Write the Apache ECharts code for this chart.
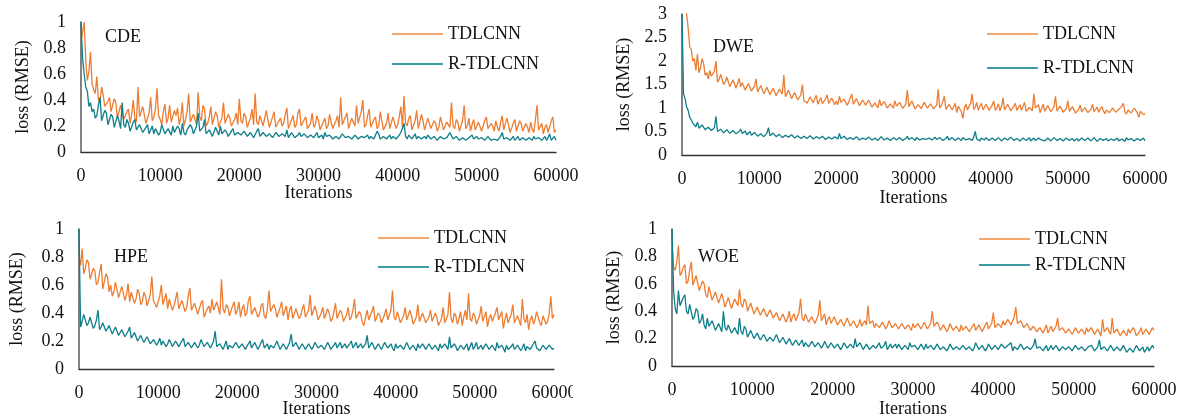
<!DOCTYPE html>
<html>
<head>
<meta charset="utf-8">
<script src="https://cdn.jsdelivr.net/npm/echarts@6/dist/echarts.min.js"></script>
<style>
html,body{margin:0;padding:0;background:#fff;}
#wrap{position:relative;width:1179px;height:414px;overflow:hidden;background:#fff;}
.p{position:absolute;}
</style>
</head>
<body>
<div id="wrap">
  <div class="p" id="p1" style="left:0;top:0;width:590px;height:207px"></div>
  <div class="p" id="p2" style="left:590px;top:0;width:589px;height:207px"></div>
  <div class="p" id="p3" style="left:0;top:207px;width:573px;height:207px"></div>
  <div class="p" id="p4" style="left:590px;top:207px;width:589px;height:207px"></div>
</div>
<script>
// sample spacing of the loss curves (iterations between points)
const step = 200;
const seriesNames = ['TDLCNN', 'R-TDLCNN'];
const panelNames = ['CDE', 'DWE', 'HPE', 'WOE'];
const xTitle = 'Iterations';
const yTitle = 'loss (RMSE)';

const cdeT = [
0.86,0.92,1.00,0.70,0.55,0.62,0.77,0.52,0.48,0.45,0.58,0.40,0.38,0.50,0.44,0.35,0.34,0.39,0.42,0.31,
0.30,0.41,0.38,0.26,0.27,0.36,0.35,0.25,0.24,0.31,0.33,0.22,0.29,0.40,0.26,0.23,0.50,0.27,0.28,0.35,
0.34,0.22,0.23,0.30,0.42,0.24,0.27,0.33,0.49,0.28,0.25,0.21,0.31,0.37,0.22,0.26,0.36,0.23,0.24,0.32,
0.28,0.34,0.21,0.26,0.38,0.20,0.25,0.31,0.45,0.23,0.22,0.29,0.30,0.21,0.46,0.27,0.24,0.36,0.33,0.20,
0.22,0.27,0.35,0.21,0.20,0.31,0.28,0.19,0.23,0.26,0.38,0.22,0.21,0.29,0.26,0.20,0.19,0.25,0.30,0.21,
0.41,0.24,0.22,0.30,0.27,0.19,0.20,0.26,0.33,0.21,0.45,0.23,0.21,0.28,0.29,0.20,0.19,0.32,0.25,0.19,
0.20,0.27,0.31,0.19,0.18,0.24,0.26,0.20,0.22,0.29,0.34,0.18,0.19,0.25,0.28,0.19,0.21,0.30,0.33,0.20,
0.19,0.25,0.27,0.18,0.18,0.22,0.30,0.19,0.21,0.28,0.24,0.17,0.17,0.23,0.26,0.18,0.20,0.29,0.23,0.18,
0.18,0.24,0.28,0.19,0.42,0.21,0.20,0.27,0.30,0.18,0.19,0.26,0.25,0.20,0.36,0.22,0.22,0.31,0.40,0.19,
0.21,0.28,0.33,0.19,0.18,0.25,0.27,0.18,0.20,0.31,0.24,0.17,0.17,0.22,0.30,0.18,0.19,0.27,0.26,0.18,
0.21,0.27,0.35,0.19,0.43,0.22,0.20,0.26,0.28,0.17,0.17,0.24,0.32,0.18,0.19,0.29,0.24,0.17,0.18,0.26,
0.26,0.18,0.17,0.24,0.22,0.16,0.19,0.27,0.28,0.17,0.16,0.23,0.21,0.19,0.38,0.20,0.18,0.25,0.23,0.16,
0.17,0.24,0.36,0.18,0.20,0.26,0.16,0.21,0.25,0.17,0.18,0.23,0.22,0.16,0.15,0.24,0.27,0.18,0.17,0.22,
0.20,0.16,0.24,0.19,0.16,0.23,0.28,0.17,0.18,0.26,0.21,0.15,0.15,0.22,0.25,0.16,0.17,0.24,0.22,0.16,
0.16,0.22,0.19,0.15,0.23,0.17,0.15,0.25,0.36,0.17,0.18,0.22,0.14,0.19,0.21,0.15,0.16,0.24,0.27,0.15,
0.17];
const cdeR = [
1.00,0.72,0.60,0.50,0.47,0.35,0.38,0.31,0.33,0.26,0.28,0.36,0.42,0.24,0.25,0.32,0.30,0.21,0.22,0.29,
0.27,0.19,0.20,0.28,0.24,0.18,0.38,0.21,0.19,0.25,0.22,0.16,0.17,0.23,0.25,0.17,0.16,0.21,0.20,0.15,
0.15,0.19,0.21,0.14,0.17,0.20,0.14,0.18,0.19,0.13,0.15,0.21,0.22,0.14,0.14,0.18,0.17,0.13,0.20,0.15,
0.14,0.20,0.18,0.13,0.22,0.15,0.13,0.17,0.16,0.21,0.19,0.14,0.14,0.20,0.30,0.16,0.15,0.19,0.25,0.14,
0.14,0.17,0.18,0.12,0.13,0.19,0.16,0.13,0.20,0.14,0.13,0.17,0.15,0.12,0.12,0.16,0.18,0.13,0.13,0.15,
0.15,0.13,0.12,0.16,0.17,0.12,0.13,0.15,0.14,0.11,0.12,0.16,0.18,0.12,0.13,0.15,0.15,0.12,0.12,0.14,
0.14,0.11,0.12,0.15,0.16,0.12,0.11,0.14,0.13,0.12,0.17,0.11,0.12,0.15,0.14,0.11,0.11,0.13,0.15,0.12,
0.12,0.14,0.13,0.11,0.11,0.13,0.14,0.11,0.12,0.15,0.11,0.12,0.13,0.10,0.15,0.12,0.11,0.13,0.12,0.10,
0.10,0.12,0.13,0.10,0.11,0.14,0.14,0.11,0.10,0.12,0.12,0.10,0.11,0.13,0.13,0.10,0.10,0.12,0.12,0.11,
0.11,0.13,0.10,0.12,0.13,0.10,0.11,0.16,0.14,0.10,0.10,0.12,0.12,0.10,0.11,0.13,0.10,0.12,0.13,0.10,
0.11,0.13,0.15,0.18,0.22,0.12,0.10,0.13,0.12,0.10,0.11,0.14,0.10,0.12,0.13,0.10,0.11,0.12,0.10,0.13,
0.12,0.10,0.10,0.12,0.11,0.09,0.09,0.12,0.13,0.10,0.10,0.11,0.12,0.15,0.14,0.10,0.10,0.12,0.11,0.09,
0.10,0.11,0.12,0.09,0.09,0.11,0.11,0.13,0.10,0.09,0.12,0.10,0.09,0.11,0.11,0.09,0.10,0.12,0.12,0.09,
0.09,0.10,0.11,0.09,0.10,0.12,0.15,0.10,0.09,0.11,0.11,0.09,0.10,0.12,0.09,0.10,0.12,0.09,0.10,0.11,
0.11,0.09,0.09,0.11,0.10,0.09,0.12,0.10,0.09,0.11,0.11,0.09,0.10,0.12,0.09,0.11,0.14,0.09,0.10,0.12,
0.09];
const dweT = [
3.40,3.10,3.20,3.00,2.70,2.30,2.25,2.00,2.05,1.80,2.15,1.75,1.85,2.05,1.95,1.70,1.75,1.62,1.80,1.68,
1.65,1.78,2.00,1.55,1.60,1.72,1.70,1.50,1.55,1.66,1.62,1.45,1.48,1.60,1.58,1.42,1.52,1.63,1.45,1.54,
1.55,1.38,1.42,1.52,1.50,1.36,1.38,1.47,1.62,1.34,1.35,1.48,1.45,1.30,1.33,1.44,1.40,1.28,1.30,1.42,
1.38,1.26,1.28,1.40,1.42,1.30,1.70,1.24,1.25,1.38,1.35,1.20,1.22,1.33,1.30,1.17,1.18,1.28,1.50,1.16,
1.20,1.10,1.12,1.24,1.25,1.11,1.15,1.27,1.08,1.16,1.22,1.09,1.12,1.20,1.28,1.10,1.10,1.21,1.18,1.07,
1.15,1.07,1.25,1.12,1.08,1.19,1.18,1.06,1.12,1.22,1.30,1.08,1.10,1.20,1.16,1.05,1.06,1.17,1.20,1.06,
1.08,1.17,1.14,1.02,1.00,1.11,1.10,1.00,1.18,1.05,1.03,1.14,1.12,1.00,0.98,1.09,1.08,1.00,1.15,1.04,
1.02,1.12,1.10,0.99,1.00,1.08,1.38,1.03,1.05,1.15,1.12,0.98,0.98,1.07,1.08,0.99,1.03,1.12,1.14,1.00,
1.00,1.09,1.10,0.98,0.97,1.06,1.40,1.00,1.05,1.14,1.25,0.97,0.95,1.08,1.12,0.96,1.02,1.10,0.90,1.04,
1.05,0.92,0.78,1.00,1.08,0.96,0.98,1.10,1.30,0.97,1.02,1.12,0.95,1.04,1.10,0.96,1.00,1.08,1.06,0.95,
0.96,1.06,1.15,0.95,1.00,1.09,0.94,1.03,1.22,0.96,0.98,1.08,1.05,0.94,0.93,1.04,1.10,0.95,0.99,1.07,
0.95,1.04,1.12,0.93,0.92,1.01,1.05,0.94,1.30,1.00,0.96,1.07,0.90,0.99,1.08,0.93,0.97,1.05,1.02,0.92,
0.92,1.02,1.25,0.94,0.95,1.04,1.05,0.91,0.90,0.99,1.15,0.93,0.94,1.03,0.99,0.89,0.88,0.97,1.06,0.92,
0.93,1.01,1.00,0.90,0.89,0.98,1.08,0.92,0.95,1.02,0.91,0.87,1.03,0.94,0.88,0.96,0.97,0.90,0.92,1.00,
1.00,0.91,0.90,0.97,0.95,1.04,1.10,0.92,0.87,0.96,0.98,0.89,0.92,1.00,1.02,0.90,0.80,0.93,0.95,0.86,
0.88];
const dweR = [
3.00,1.30,1.20,1.02,0.95,0.80,0.75,0.68,0.65,0.60,0.70,0.57,0.58,0.64,0.62,0.54,0.55,0.59,0.60,0.52,
0.52,0.58,0.82,0.50,0.50,0.55,0.56,0.47,0.48,0.54,0.53,0.46,0.46,0.52,0.51,0.45,0.45,0.50,0.55,0.46,
0.47,0.51,0.43,0.46,0.50,0.42,0.42,0.48,0.46,0.40,0.41,0.45,0.44,0.39,0.40,0.46,0.58,0.41,0.42,0.47,
0.45,0.39,0.40,0.44,0.43,0.37,0.38,0.42,0.46,0.38,0.39,0.43,0.42,0.36,0.37,0.41,0.41,0.35,0.36,0.40,
0.40,0.35,0.36,0.41,0.39,0.34,0.35,0.39,0.42,0.35,0.36,0.40,0.38,0.33,0.34,0.38,0.40,0.34,0.35,0.39,
0.37,0.34,0.46,0.35,0.35,0.40,0.38,0.33,0.33,0.37,0.39,0.33,0.35,0.39,0.37,0.32,0.32,0.36,0.38,0.33,
0.34,0.38,0.37,0.32,0.32,0.36,0.36,0.31,0.34,0.39,0.38,0.32,0.32,0.36,0.35,0.31,0.33,0.37,0.37,0.32,
0.33,0.37,0.36,0.31,0.32,0.35,0.40,0.33,0.34,0.37,0.33,0.31,0.37,0.34,0.32,0.36,0.35,0.31,0.33,0.36,
0.36,0.32,0.32,0.36,0.38,0.33,0.33,0.37,0.35,0.31,0.31,0.35,0.40,0.32,0.33,0.37,0.36,0.31,0.32,0.36,
0.34,0.31,0.37,0.33,0.32,0.36,0.35,0.31,0.31,0.38,0.50,0.34,0.34,0.30,0.36,0.33,0.32,0.37,0.35,0.31,
0.33,0.36,0.38,0.31,0.32,0.37,0.35,0.30,0.31,0.36,0.36,0.32,0.33,0.38,0.37,0.31,0.32,0.35,0.34,0.30,
0.31,0.36,0.35,0.31,0.33,0.37,0.30,0.34,0.36,0.31,0.32,0.36,0.38,0.32,0.33,0.30,0.31,0.36,0.35,0.30,
0.32,0.37,0.36,0.31,0.30,0.35,0.34,0.30,0.31,0.36,0.37,0.31,0.32,0.35,0.30,0.34,0.35,0.30,0.31,0.36,
0.33,0.31,0.30,0.36,0.35,0.30,0.31,0.37,0.34,0.29,0.30,0.35,0.36,0.31,0.32,0.35,0.30,0.34,0.34,0.30,
0.31,0.35,0.36,0.30,0.30,0.34,0.33,0.29,0.37,0.32,0.31,0.35,0.34,0.30,0.30,0.35,0.38,0.31,0.32,0.36,
0.30];
const hpeT = [
0.80,0.74,0.86,0.68,0.72,0.78,0.76,0.64,0.65,0.72,0.70,0.60,0.62,0.69,0.75,0.57,0.58,0.68,0.66,0.55,
0.60,0.52,0.55,0.62,0.63,0.51,0.50,0.59,0.58,0.49,0.53,0.61,0.48,0.55,0.56,0.47,0.50,0.57,0.54,0.46,
0.48,0.55,0.52,0.45,0.46,0.53,0.66,0.49,0.50,0.44,0.45,0.52,0.60,0.46,0.47,0.54,0.43,0.50,0.51,0.42,
0.45,0.50,0.55,0.43,0.42,0.49,0.48,0.41,0.44,0.52,0.58,0.42,0.41,0.47,0.46,0.39,0.40,0.47,0.49,0.37,
0.36,0.43,0.45,0.40,0.50,0.42,0.41,0.48,0.47,0.39,0.64,0.43,0.40,0.46,0.44,0.38,0.38,0.45,0.48,0.39,
0.42,0.48,0.37,0.43,0.46,0.38,0.40,0.49,0.52,0.39,0.38,0.44,0.44,0.37,0.39,0.45,0.47,0.38,0.36,0.43,
0.56,0.41,0.40,0.46,0.43,0.37,0.36,0.44,0.48,0.38,0.39,0.45,0.35,0.42,0.45,0.36,0.37,0.43,0.42,0.36,
0.38,0.43,0.46,0.37,0.36,0.42,0.53,0.38,0.39,0.45,0.41,0.35,0.34,0.40,0.44,0.36,0.37,0.43,0.40,0.34,
0.36,0.41,0.47,0.36,0.35,0.42,0.40,0.34,0.33,0.39,0.44,0.35,0.37,0.42,0.50,0.36,0.35,0.41,0.39,0.33,
0.31,0.37,0.42,0.35,0.36,0.41,0.45,0.34,0.34,0.40,0.38,0.33,0.33,0.39,0.43,0.35,0.36,0.42,0.56,0.37,
0.35,0.41,0.40,0.33,0.32,0.38,0.44,0.35,0.36,0.42,0.38,0.32,0.31,0.37,0.46,0.34,0.34,0.40,0.39,0.33,
0.32,0.37,0.42,0.34,0.35,0.40,0.37,0.31,0.30,0.36,0.44,0.33,0.34,0.39,0.55,0.36,0.33,0.40,0.38,0.32,
0.36,0.41,0.31,0.37,0.42,0.35,0.54,0.36,0.34,0.40,0.38,0.32,0.32,0.38,0.45,0.34,0.35,0.41,0.30,0.36,
0.39,0.34,0.33,0.40,0.44,0.35,0.36,0.41,0.29,0.35,0.40,0.33,0.34,0.39,0.46,0.33,0.32,0.38,0.37,0.31,
0.50,0.36,0.33,0.39,0.28,0.35,0.38,0.32,0.35,0.41,0.42,0.33,0.31,0.38,0.37,0.32,0.34,0.40,0.52,0.36,
0.39];
const hpeR = [
1.00,0.30,0.34,0.39,0.38,0.31,0.33,0.37,0.36,0.29,0.31,0.35,0.42,0.28,0.30,0.33,0.33,0.27,0.28,0.31,
0.31,0.25,0.26,0.30,0.29,0.24,0.25,0.28,0.28,0.23,0.24,0.27,0.30,0.22,0.22,0.26,0.25,0.20,0.21,0.24,
0.23,0.19,0.20,0.23,0.22,0.18,0.18,0.21,0.21,0.17,0.19,0.22,0.17,0.20,0.21,0.16,0.18,0.21,0.20,0.16,
0.16,0.20,0.19,0.16,0.17,0.20,0.22,0.16,0.16,0.19,0.19,0.15,0.15,0.19,0.18,0.15,0.17,0.21,0.20,0.16,
0.15,0.19,0.18,0.15,0.16,0.20,0.27,0.16,0.15,0.18,0.19,0.14,0.17,0.20,0.14,0.17,0.18,0.15,0.16,0.19,
0.19,0.15,0.15,0.18,0.17,0.14,0.14,0.18,0.20,0.15,0.16,0.19,0.18,0.14,0.15,0.19,0.21,0.15,0.16,0.18,
0.14,0.17,0.18,0.15,0.16,0.20,0.19,0.14,0.15,0.18,0.17,0.14,0.14,0.19,0.25,0.16,0.16,0.19,0.18,0.14,
0.15,0.18,0.19,0.14,0.14,0.18,0.17,0.14,0.16,0.19,0.20,0.15,0.14,0.17,0.18,0.14,0.15,0.19,0.17,0.14,
0.14,0.17,0.19,0.15,0.16,0.19,0.15,0.14,0.18,0.15,0.14,0.18,0.20,0.15,0.16,0.19,0.15,0.14,0.18,0.15,
0.14,0.18,0.24,0.15,0.16,0.19,0.18,0.14,0.15,0.18,0.17,0.14,0.14,0.19,0.19,0.15,0.16,0.18,0.15,0.13,
0.18,0.15,0.14,0.17,0.17,0.14,0.15,0.19,0.19,0.14,0.13,0.17,0.16,0.13,0.18,0.15,0.14,0.18,0.17,0.14,
0.15,0.18,0.19,0.14,0.13,0.17,0.16,0.13,0.18,0.15,0.14,0.18,0.17,0.14,0.23,0.15,0.15,0.18,0.16,0.13,
0.14,0.17,0.18,0.14,0.15,0.18,0.13,0.16,0.19,0.14,0.16,0.19,0.14,0.13,0.17,0.14,0.15,0.18,0.18,0.14,
0.13,0.17,0.16,0.13,0.19,0.15,0.14,0.17,0.15,0.12,0.17,0.14,0.13,0.16,0.18,0.14,0.14,0.17,0.16,0.13,
0.15,0.18,0.13,0.16,0.17,0.14,0.14,0.18,0.20,0.15,0.15,0.13,0.13,0.17,0.16,0.14,0.14,0.17,0.18,0.14,
0.15];
const woeT = [
0.90,0.72,0.70,0.76,0.88,0.66,0.68,0.72,0.74,0.60,0.62,0.70,0.76,0.59,0.58,0.66,0.66,0.55,0.55,0.62,
0.60,0.52,0.50,0.58,0.57,0.48,0.47,0.54,0.55,0.46,0.45,0.53,0.52,0.43,0.44,0.50,0.50,0.42,0.42,0.49,
0.48,0.44,0.56,0.45,0.43,0.49,0.47,0.40,0.40,0.46,0.45,0.38,0.38,0.43,0.44,0.37,0.37,0.42,0.41,0.36,
0.36,0.41,0.40,0.35,0.34,0.39,0.38,0.33,0.33,0.38,0.37,0.32,0.35,0.40,0.32,0.36,0.38,0.33,0.34,0.39,
0.49,0.35,0.33,0.38,0.37,0.32,0.32,0.36,0.35,0.31,0.31,0.37,0.48,0.33,0.34,0.38,0.30,0.34,0.36,0.31,
0.32,0.36,0.35,0.30,0.29,0.34,0.33,0.29,0.30,0.35,0.34,0.29,0.28,0.33,0.32,0.28,0.30,0.34,0.29,0.31,
0.33,0.30,0.44,0.31,0.30,0.33,0.28,0.31,0.32,0.28,0.27,0.32,0.31,0.27,0.29,0.33,0.33,0.28,0.27,0.31,
0.30,0.27,0.28,0.31,0.32,0.27,0.26,0.30,0.29,0.26,0.31,0.28,0.27,0.31,0.30,0.27,0.28,0.32,0.33,0.27,
0.27,0.31,0.40,0.29,0.28,0.32,0.30,0.26,0.26,0.30,0.29,0.25,0.27,0.31,0.31,0.26,0.25,0.29,0.28,0.25,
0.30,0.26,0.26,0.29,0.28,0.25,0.25,0.29,0.31,0.26,0.27,0.30,0.29,0.25,0.26,0.30,0.32,0.27,0.28,0.31,
0.39,0.28,0.27,0.31,0.31,0.28,0.33,0.30,0.29,0.34,0.35,0.30,0.31,0.36,0.43,0.31,0.30,0.33,0.32,0.28,
0.28,0.31,0.30,0.26,0.26,0.29,0.29,0.25,0.25,0.28,0.28,0.24,0.27,0.30,0.24,0.27,0.29,0.25,0.26,0.29,
0.35,0.26,0.25,0.28,0.28,0.24,0.24,0.27,0.27,0.23,0.25,0.28,0.29,0.24,0.23,0.27,0.26,0.23,0.28,0.25,
0.24,0.28,0.27,0.23,0.23,0.27,0.26,0.22,0.34,0.25,0.25,0.28,0.28,0.23,0.35,0.24,0.23,0.27,0.26,0.22,
0.22,0.26,0.25,0.22,0.27,0.24,0.23,0.28,0.26,0.22,0.21,0.25,0.28,0.23,0.24,0.27,0.27,0.23,0.23,0.28,
0.26];
const woeR = [
1.00,0.55,0.42,0.38,0.55,0.44,0.45,0.50,0.52,0.40,0.38,0.45,0.44,0.34,0.36,0.42,0.40,0.31,0.33,0.38,
0.30,0.27,0.35,0.29,0.28,0.33,0.32,0.26,0.27,0.31,0.30,0.25,0.40,0.28,0.26,0.30,0.29,0.24,0.24,0.28,
0.28,0.23,0.35,0.25,0.23,0.29,0.27,0.21,0.22,0.26,0.25,0.20,0.20,0.24,0.23,0.19,0.19,0.23,0.21,0.18,
0.18,0.21,0.22,0.18,0.19,0.23,0.24,0.17,0.17,0.21,0.20,0.16,0.16,0.20,0.19,0.15,0.15,0.19,0.18,0.15,
0.16,0.19,0.14,0.17,0.18,0.14,0.15,0.18,0.19,0.14,0.13,0.17,0.16,0.13,0.15,0.18,0.17,0.13,0.14,0.17,
0.16,0.13,0.13,0.16,0.15,0.12,0.14,0.17,0.17,0.13,0.13,0.16,0.15,0.13,0.20,0.14,0.14,0.17,0.16,0.12,
0.13,0.16,0.15,0.12,0.12,0.15,0.16,0.13,0.14,0.17,0.13,0.12,0.15,0.18,0.12,0.14,0.16,0.13,0.14,0.16,
0.13,0.16,0.15,0.12,0.12,0.15,0.14,0.12,0.17,0.14,0.13,0.15,0.15,0.12,0.12,0.16,0.14,0.12,0.16,0.13,
0.12,0.15,0.14,0.12,0.13,0.16,0.15,0.12,0.12,0.14,0.14,0.11,0.13,0.16,0.15,0.12,0.11,0.14,0.14,0.12,
0.13,0.15,0.15,0.12,0.12,0.14,0.14,0.11,0.13,0.17,0.16,0.12,0.12,0.15,0.14,0.11,0.13,0.16,0.15,0.12,
0.12,0.15,0.14,0.12,0.13,0.16,0.16,0.13,0.12,0.15,0.14,0.17,0.11,0.14,0.15,0.12,0.13,0.16,0.14,0.12,
0.12,0.14,0.15,0.12,0.13,0.15,0.20,0.13,0.12,0.14,0.14,0.11,0.13,0.15,0.11,0.13,0.15,0.12,0.13,0.15,
0.14,0.11,0.12,0.14,0.15,0.12,0.11,0.14,0.14,0.11,0.13,0.15,0.16,0.12,0.12,0.14,0.14,0.11,0.11,0.14,
0.13,0.15,0.15,0.11,0.12,0.14,0.19,0.12,0.11,0.14,0.14,0.11,0.12,0.15,0.15,0.11,0.10,0.14,0.13,0.11,
0.12,0.15,0.14,0.10,0.10,0.13,0.13,0.10,0.11,0.15,0.15,0.11,0.12,0.14,0.10,0.12,0.14,0.11,0.12,0.15,
0.13];

const FONT = "'Liberation Serif', 'Times New Roman', serif";
const ORANGE = '#ED7D31', TEAL = '#0E7E89';
const ORANGE_L = '#F4A86F', TEAL_L = '#3E9CA5';

function pairs(arr){ return arr.map((v,i)=>[i*step, v]); }

function build(cfg){
  return {
    animation:false,
    textStyle:{fontFamily:FONT},
    grid:{left:cfg.grid[0], top:cfg.grid[1], width:cfg.grid[2], height:cfg.grid[3],
          outerBoundsMode:'none', containLabel:false},
    legend:{
      orient:'vertical', left:cfg.legend[0], top:cfg.legend[1], itemGap:cfg.legend[2], padding:0,
      icon:'rect', itemWidth:51, itemHeight:2,
      textStyle:{fontFamily:FONT, fontSize:18, color:'#111', lineHeight:18},
      data:[
        {name:seriesNames[0], itemStyle:{color:ORANGE_L}},
        {name:seriesNames[1], itemStyle:{color:TEAL_L}}
      ]
    },
    graphic:[{type:'text', left:cfg.label[0], top:cfg.label[1],
      style:{text:cfg.name, font:'18px '+FONT, fill:'#111'}}],
    xAxis:{
      type:'value', min:0, max:60000, interval:10000,
      name:xTitle, nameLocation:'middle', nameGap:cfg.xNameGap, nameMoveOverlap:false,
      nameTextStyle:{fontFamily:FONT, fontSize:18, color:'#111', verticalAlign:'middle'},
      axisLine:{show:true, onZero:false, lineStyle:{color:'#333', width:1.3}},
      axisTick:{show:false}, splitLine:{show:false},
      axisLabel:{fontFamily:FONT, fontSize:18, color:'#111', margin:15, formatter:v=>String(v)}
    },
    yAxis:{
      type:'value', min:0, max:cfg.ymax, interval:cfg.yint,
      name:yTitle, nameLocation:'middle', nameGap:cfg.yNameGap, nameRotate:90,
      nameTextStyle:{fontFamily:FONT, fontSize:18, color:'#111'},
      axisLine:{show:true, lineStyle:{color:'#5a5a5a', width:1.5}},
      axisTick:{show:false}, splitLine:{show:false},
      axisLabel:{fontFamily:FONT, fontSize:18, color:'#111', margin:15}
    },
    series:[
      {name:seriesNames[0], type:'line', data:pairs(cfg.t), showSymbol:false, clip:true,
       lineStyle:{color:ORANGE, width:1.3}, itemStyle:{color:ORANGE}},
      {name:seriesNames[1], type:'line', data:pairs(cfg.r), showSymbol:false, clip:true,
       lineStyle:{color:TEAL, width:1.3}, itemStyle:{color:TEAL}}
    ]
  };
}

const panels = [
  {id:'p1', name:panelNames[0], t:cdeT, r:cdeR, ymax:1, yint:0.2,
   grid:[81,22,475,130], legend:[392,25,12], label:[105,28], xNameGap:41, yNameGap:44},
  {id:'p2', name:panelNames[1], t:dweT, r:dweR, ymax:3, yint:0.5,
   grid:[92,14,463,141], legend:[397,25,16], label:[123,38], xNameGap:43, yNameGap:45},
  {id:'p3', name:panelNames[2], t:hpeT, r:hpeR, ymax:1, yint:0.2,
   grid:[79,22,475,140], legend:[378,22,11], label:[114,41], xNameGap:40, yNameGap:53},
  {id:'p4', name:panelNames[3], t:woeT, r:woeR, ymax:1, yint:0.2,
   grid:[82,22,482,137], legend:[389,23,8], label:[108,41], xNameGap:43, yNameGap:48}
];

panels.forEach(p=>{
  const c = echarts.init(document.getElementById(p.id), null, {renderer:'canvas'});
  c.setOption(build(p));
});
</script>
</body>
</html>
